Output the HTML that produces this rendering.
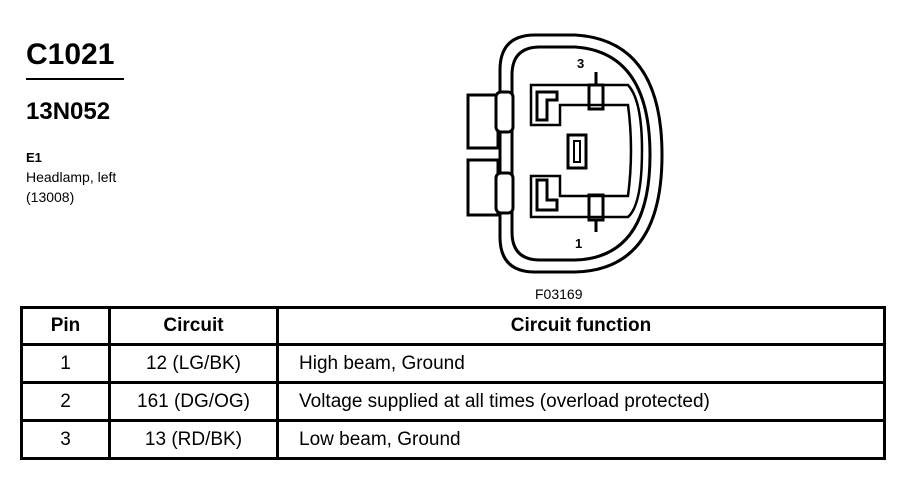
<!DOCTYPE html>
<html><head><style>
body{margin:0;background:#fff;width:906px;height:480px;overflow:hidden;position:relative;font-family:"Liberation Sans",Arial,sans-serif;}
.t{position:absolute;color:#000;}
table{position:absolute;left:20px;top:306px;border-collapse:collapse;}
td{border:3px solid #000;font-size:19px;height:35px;padding:0;}
th{border:3px solid #000;font-size:19px;height:34px;font-weight:bold;padding:0;}
</style></head><body>
<div class="t" style="left:26px;top:38px;font-size:30px;font-weight:bold;">C1021</div>
<div style="position:absolute;left:26px;top:78px;width:98px;height:2px;background:#000"></div>
<div class="t" style="left:26px;top:98px;font-size:24px;font-weight:bold;">13N052</div>
<div class="t" style="left:26px;top:150px;font-size:13px;font-weight:bold;">E1</div>
<div class="t" style="left:26px;top:169px;font-size:14px;">Headlamp, left</div>
<div class="t" style="left:26px;top:189px;font-size:14px;">(13008)</div>
<div class="t" style="left:535px;top:286px;font-size:14px;">F03169</div>
<svg style="position:absolute;left:0;top:0" width="906" height="300" fill="none" stroke="#000" stroke-width="3">
<path d="M500 70 Q500 35 535 35 L575 35 Q662 40 662 155 Q662 270 575 272 L535 272 Q500 272 500 237 Z"/>
<path d="M512 75 Q512 47 540 47 L575 47 Q650 52 650 155 Q650 258 575 260 L540 260 Q512 260 512 232 Z"/>
<rect x="468" y="95" width="30" height="53"/><rect x="468" y="160" width="30" height="55"/>
<rect x="496" y="92" width="17" height="40" rx="5" fill="#fff"/>
<rect x="496" y="173" width="17" height="40" rx="5" fill="#fff"/>
<path d="M531 85 L628 85 Q642 100 642 150 Q642 205 628 217 L531 217 L531 176 L560 176 L560 196 L628 196 Q634 150 628 105 L560 105 L560 125 L531 125 Z" stroke-width="2.5"/>
<path d="M537 92 L557 92 L557 100 L547 100 L547 120 L537 120 Z"/>
<path d="M537 180 L547 180 L547 200 L557 200 L557 210 L537 210 Z"/>
<rect x="589" y="85" width="14" height="24"/><line x1="596" y1="72" x2="596" y2="85"/>
<rect x="589" y="195" width="14" height="25"/><line x1="596" y1="220" x2="596" y2="232"/>
<rect x="568" y="135" width="18" height="33"/><rect x="574" y="141" width="6" height="21" stroke-width="2"/>
<text x="577" y="68" font-size="13" font-weight="bold" fill="#000" stroke="none" font-family="Liberation Sans">3</text>
<text x="575" y="248" font-size="13" font-weight="bold" fill="#000" stroke="none" font-family="Liberation Sans">1</text>
</svg>
<table>
<tr><th style="width:85px">Pin</th><th style="width:165px">Circuit</th><th style="width:604px">Circuit function</th></tr>
<tr><td align="center">1</td><td align="center">12 (LG/BK)</td><td style="padding-left:20px">High beam, Ground</td></tr>
<tr><td align="center">2</td><td align="center">161 (DG/OG)</td><td style="padding-left:20px">Voltage supplied at all times (overload protected)</td></tr>
<tr><td align="center">3</td><td align="center">13 (RD/BK)</td><td style="padding-left:20px">Low beam, Ground</td></tr>
</table>
</body></html>
